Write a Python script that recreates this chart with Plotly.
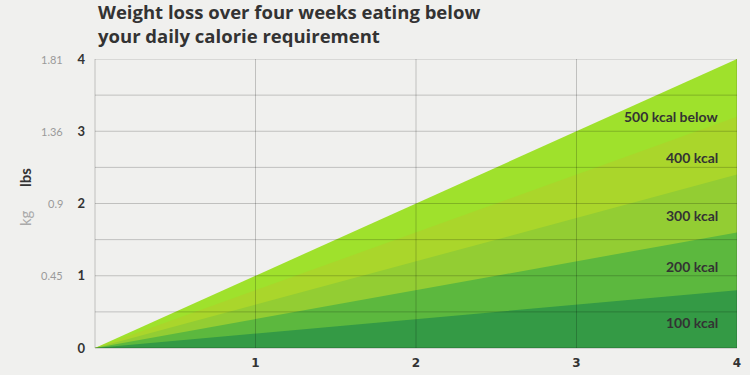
import plotly.graph_objects as go

# ---- data ----
weeks = [0, 1, 2, 3, 4]
series_names = ["500 kcal below", "400 kcal", "300 kcal", "200 kcal", "100 kcal"]
loss_500 = [0, 1.0, 2.0, 3.0, 4.0]
loss_400 = [0, 0.8, 1.6, 2.4, 3.2]
loss_300 = [0, 0.6, 1.2, 1.8, 2.4]
loss_200 = [0, 0.4, 0.8, 1.2, 1.6]
loss_100 = [0, 0.2, 0.4, 0.6, 0.8]
x_tick_vals = [1, 2, 3, 4]
x_tick_labels = ["1", "2", "3", "4"]
lbs_tick_vals = [0, 1, 2, 3, 4]
lbs_tick_labels = ["0", "1", "2", "3", "4"]
kg_tick_vals = [1, 2, 3, 4]
kg_tick_labels = ["0.45", "0.9", "1.36", "1.81"]
y_grid_vals = [0.5, 1, 1.5, 2, 2.5, 3, 3.5, 4]
x_grid_vals = [1, 2, 3, 4]
title_lines = ["Weight loss over four weeks eating below", "your daily calorie requirement"]

# ---- styling ----
colors = ["#9fe12c", "#aad62b", "#93cd33", "#5cb83e", "#349a45"]
label_y = [3.2, 2.63, 1.83, 1.13, 0.35]
BG = "#f0f0ee"
DARK = "#333333"
FONT = "Lato"

W, H = 750, 375
L, R, T, B = 95, 13, 59, 27
pw, ph = W - L - R, H - T - B

def px_x(p):
    return (p - L) / pw

def px_y(p):
    return (H - B - p) / ph

fig = go.Figure()
all_series = [loss_500, loss_400, loss_300, loss_200, loss_100]
for name, vals, col in zip(series_names, all_series, colors):
    fig.add_trace(go.Scatter(
        x=weeks, y=vals, name=name, mode="lines",
        line=dict(width=0, color=col), fill="tozeroy", fillcolor=col,
        hoverinfo="x+y+name", showlegend=False,
    ))

shapes = []
grid_col = "rgba(0,0,0,0.2)"
for yv in y_grid_vals:
    shapes.append(dict(type="line", xref="paper", yref="y", x0=0, x1=1, y0=yv, y1=yv,
                       line=dict(color=grid_col, width=1), layer="above"))
for xv in x_grid_vals:
    shapes.append(dict(type="line", xref="x", yref="paper", x0=xv, x1=xv, y0=0, y1=1,
                       line=dict(color=grid_col, width=1), layer="above"))
shapes.append(dict(type="line", xref="paper", yref="paper", x0=0, x1=0, y0=0, y1=1,
                   line=dict(color=grid_col, width=1), layer="above"))
shapes.append(dict(type="line", xref="paper", yref="paper", x0=0, x1=1, y0=0, y1=0,
                   line=dict(color="rgba(0,0,0,0.25)", width=1), layer="above"))

annotations = []
for name, yv in zip(series_names, label_y):
    annotations.append(dict(x=4, y=yv, xref="x", yref="y", text=name, showarrow=False,
                            xanchor="right", yanchor="middle", xshift=-17,
                            font=dict(family=FONT, size=14, color=DARK, weight="bold")))
for v, t in zip(kg_tick_vals, kg_tick_labels):
    annotations.append(dict(x=px_x(65), y=v, xref="paper", yref="y", text=t, showarrow=False,
                            xanchor="right", yanchor="middle",
                            font=dict(family=FONT, size=11, color="#9a9a9a")))
annotations.append(dict(x=px_x(25), y=px_y(178), xref="paper", yref="paper", text="lbs",
                        showarrow=False, textangle=-90, xanchor="center", yanchor="middle",
                        font=dict(family=FONT, size=15, color=DARK, weight="bold")))
annotations.append(dict(x=px_x(25), y=px_y(218), xref="paper", yref="paper", text="kg",
                        showarrow=False, textangle=-90, xanchor="center", yanchor="middle",
                        font=dict(family=FONT, size=15, color="#aaaaaa")))
annotations.append(dict(x=px_x(96), y=px_y(0), xref="paper", yref="paper",
                        text="<br>".join(title_lines), showarrow=False, align="left",
                        xanchor="left", yanchor="top", yshift=3,
                        font=dict(family="Open Sans", size=18.5, color=DARK, weight="bold")))

fig.update_layout(
    width=W, height=H,
    margin=dict(l=L, r=R, t=T, b=B, pad=0, autoexpand=False),
    paper_bgcolor=BG, plot_bgcolor=BG,
    shapes=shapes, annotations=annotations,
    xaxis=dict(range=[0, 4], tickvals=x_tick_vals, ticktext=x_tick_labels,
               showgrid=False, zeroline=False, showline=False, ticks="",
               ticklabelstandoff=6, automargin=False,
               tickfont=dict(family="DejaVu Sans", size=12, color=DARK, weight="bold")),
    yaxis=dict(range=[0, 4], tickvals=lbs_tick_vals, ticktext=lbs_tick_labels,
               showgrid=False, zeroline=False, showline=False, ticks="",
               ticklabelstandoff=9, automargin=False,
               tickfont=dict(family=FONT, size=13, color=DARK, weight="bold")),
)

fig.write_html("out.html", config={"displayModeBar": False},
               post_script="document.body.style.margin='0';document.body.style.background='#f0f0ee';")
